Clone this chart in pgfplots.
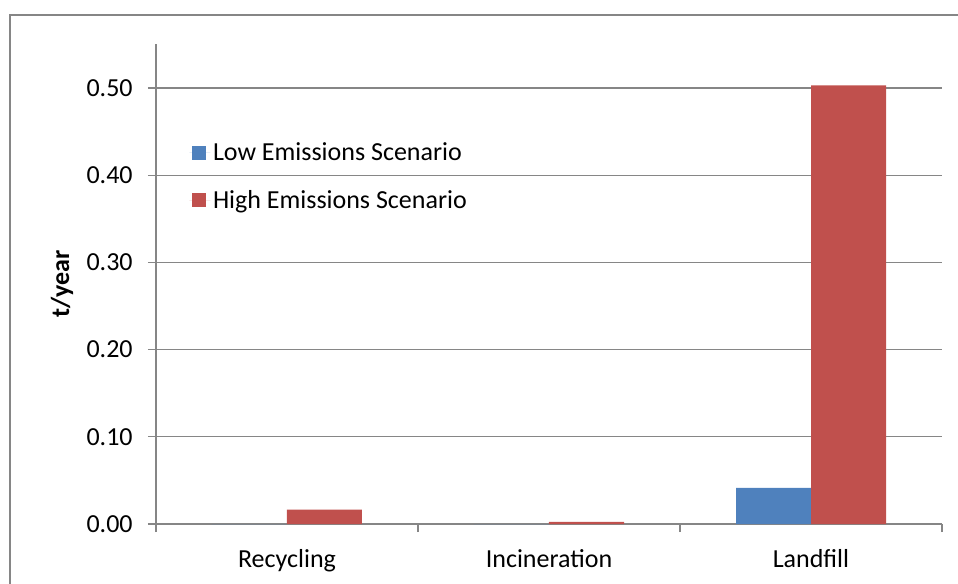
\documentclass[border=0pt]{standalone}
\usepackage{fontspec}
\setmainfont{Carlito}
\usepackage{pgfplots}
\pgfplotsset{compat=1.18}
\definecolor{lowblue}{HTML}{4F81BD}
\definecolor{highred}{HTML}{C0504D}
\definecolor{axgray}{HTML}{868686}
\newcommand{\chartfont}{\fontsize{19.5}{23}\selectfont}
\begin{document}
\begin{tikzpicture}
% page: 958x583 px at 0.75pt/px; axis corner at (156px, 524px)
\useasboundingbox (-117pt,-44.25pt) rectangle (601.5pt,393pt);
\draw[axgray, line width=1pt] (-109.5pt,-50pt) -- (-109.5pt,381.75pt) -- (610pt,381.75pt);
\begin{axis}[
    at={(0pt,0pt)}, anchor=south west,
    scale only axis,
    width=589.5pt, height=359.7pt,
    ybar=0pt, bar width=56.25pt,
    xmin=-0.5, xmax=2.5,
    ymin=0, ymax=0.55,
    axis x line*=bottom, axis y line*=left,
    axis line style={axgray, line width=0.9pt, -},
    xtick={0,1,2},
    xticklabels={Recycling,Incineration,Landfill},
    major x tick style={draw=none},
    minor xtick={-0.5,0.5,1.5,2.5},
    minor tick length=6pt,
    minor x tick style={axgray, line width=0.9pt},
    xtick align=outside,
    ytick={0,0.1,0.2,0.3,0.4,0.5},
    ytick align=outside,
    major tick length=6pt,
    y tick style={axgray, line width=0.9pt},
    ymajorgrids,
    grid style={axgray, line width=0.9pt},
    yticklabel style={/pgf/number format/fixed, /pgf/number format/fixed zerofill, /pgf/number format/precision=2},
    /pgf/number format/assume math mode=true,
    tick label style={font=\chartfont},
    xticklabel style={yshift=-9.5pt},
    yticklabel style={xshift=-8pt},
    ylabel={\textbf{t/year}},
    ylabel style={font=\chartfont, at={(axis description cs:-0.1196,0.5)}, anchor=center},
    legend style={at={(0.037,0.807)}, anchor=north west, draw=none, fill=none,
        font=\chartfont, row sep=17pt},
    legend cell align=left,
    legend image code/.code={\path (0pt,0pt) -- (15.75pt,0pt);
        \fill[#1] (2.25pt,-5.25pt) rectangle (12.75pt,5.25pt);},
]
\addplot[fill=lowblue, draw=none] coordinates {(0,0) (1,0) (2,0.0413)};
\addplot[fill=highred, draw=none] coordinates {(0,0.0165) (1,0.0025) (2,0.503)};
\legend{Low Emissions Scenario, High Emissions Scenario}
\end{axis}
\end{tikzpicture}
\end{document}
